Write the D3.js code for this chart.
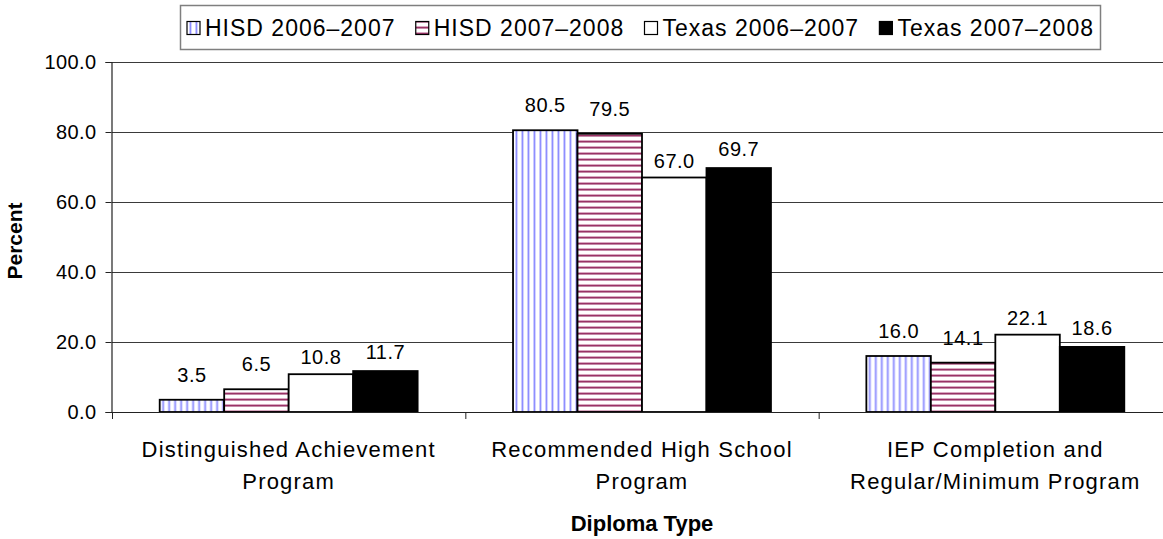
<!DOCTYPE html>
<html>
<head>
<meta charset="utf-8">
<script src="https://cdn.jsdelivr.net/npm/d3@7"></script>
<style>
  html, body { margin: 0; padding: 0; background: #fff; }
  svg { display: block; font-family: "Liberation Sans", Arial, sans-serif; }
</style>
</head>
<body>
<svg id="chart" width="1163" height="539"></svg>
<script>
// Diploma types (x categories), each label split into lines
const categories = [
  "Distinguished Achievement Program",
  "Recommended High School Program",
  "IEP Completion and Regular/Minimum Program"
];
const categoryLines = [
  ["Distinguished Achievement", "Program"],
  ["Recommended High School", "Program"],
  ["IEP Completion and", "Regular/Minimum Program"]
];

// Series names and percentages per diploma type
const seriesNames = ["HISD 2006\u20132007", "HISD 2007\u20132008", "Texas 2006\u20132007", "Texas 2007\u20132008"];
const hisd0607  = [3.5, 80.5, 16.0];
const hisd0708  = [6.5, 79.5, 14.1];
const texas0607 = [10.8, 67.0, 22.1];
const texas0708 = [11.7, 69.7, 18.6];
const seriesValues = [hisd0607, hisd0708, texas0607, texas0708];

// Y axis ticks
const yTicks = [0, 20, 40, 60, 80, 100];

const svg = d3.select("#chart");
const defs = svg.append("defs");

// Vertical blue stripes
const pv = defs.append("pattern").attr("id", "pat-vert")
  .attr("patternUnits", "userSpaceOnUse").attr("width", 6).attr("height", 6);
pv.append("rect").attr("width", 6).attr("height", 6).attr("fill", "#fff");
pv.append("rect").attr("x", 2).attr("width", 1).attr("height", 6).attr("fill", "#c8c8ff");
pv.append("rect").attr("x", 3).attr("width", 1).attr("height", 6).attr("fill", "#8c8cff");
pv.append("rect").attr("x", 4).attr("width", 1).attr("height", 6).attr("fill", "#d4d4ff");

// Horizontal maroon stripes
const ph = defs.append("pattern").attr("id", "pat-horiz")
  .attr("patternUnits", "userSpaceOnUse").attr("width", 6).attr("height", 6);
ph.append("rect").attr("width", 6).attr("height", 6).attr("fill", "#fff");
ph.append("rect").attr("y", 2).attr("width", 6).attr("height", 1).attr("fill", "#d9a9c1");
ph.append("rect").attr("y", 3).attr("width", 6).attr("height", 1).attr("fill", "#993366");
ph.append("rect").attr("y", 4).attr("width", 6).attr("height", 1).attr("fill", "#c48aa7");

const fills = ["url(#pat-vert)", "url(#pat-horiz)", "#ffffff", "#000000"];
// Extra gap between the bar top and its value label, per series
const labelGap = [18, 18, 10, 12];

const plot = { left: 112, top: 62, bottom: 412, right: 1172 };

const x0 = d3.scaleBand()
  .domain(categories)
  .range([plot.left, plot.right])
  .paddingInner(0.27)
  .paddingOuter(0.135);

const x1 = d3.scaleBand()
  .domain(d3.range(seriesNames.length))
  .range([0, x0.bandwidth()])
  .padding(0);

const y = d3.scaleLinear().domain([0, 100]).range([plot.bottom, plot.top]);

// Horizontal gridlines
svg.append("g")
  .selectAll("line")
  .data(yTicks.filter(d => d > 0))
  .join("line")
  .attr("x1", plot.left).attr("x2", 1163)
  .attr("y1", d => y(d) + 0.5).attr("y2", d => y(d) + 0.5)
  .attr("stroke", "#3a3a3a").attr("stroke-width", 1);

// Y axis
const yAxis = svg.append("g")
  .attr("transform", `translate(${plot.left - 0.5},0)`)
  .call(d3.axisLeft(y).tickValues(yTicks).tickSize(6).tickPadding(9).tickFormat(d3.format(".1f")));
yAxis.select(".domain").attr("stroke", "#222").attr("stroke-width", 1.2);
yAxis.selectAll(".tick line").attr("stroke", "#222");
yAxis.selectAll(".tick text")
  .attr("font-size", 20).attr("letter-spacing", 0.4).attr("fill", "#000")
  .attr("font-family", "Liberation Sans, Arial, sans-serif");

// Bars
const groups = svg.append("g")
  .selectAll("g")
  .data(categories)
  .join("g")
  .attr("transform", d => `translate(${x0(d)},0)`);

groups.selectAll("rect")
  .data((d, ci) => seriesValues.map((vals, si) => ({ si, v: vals[ci] })))
  .join("rect")
  .attr("x", d => x1(d.si))
  .attr("y", d => y(d.v))
  .attr("width", x1.bandwidth())
  .attr("height", d => y(0) - y(d.v))
  .attr("fill", d => fills[d.si])
  .attr("stroke", "#000")
  .attr("stroke-width", 1.8);

// Value labels
groups.selectAll("text")
  .data((d, ci) => seriesValues.map((vals, si) => ({ si, v: vals[ci] })))
  .join("text")
  .attr("x", d => x1(d.si) + x1.bandwidth() / 2)
  .attr("y", d => y(d.v) - labelGap[d.si])
  .attr("text-anchor", "middle")
  .attr("font-size", 20)
  .attr("letter-spacing", 0.5)
  .text(d => d3.format(".1f")(d.v));

// X axis baseline and category ticks
svg.append("line")
  .attr("x1", plot.left - 6).attr("x2", 1163)
  .attr("y1", plot.bottom + 0.5).attr("y2", plot.bottom + 0.5)
  .attr("stroke", "#222").attr("stroke-width", 1.2);

const step = x0.step();
svg.append("g")
  .selectAll("line")
  .data(categories)
  .join("line")
  .attr("x1", d => x0(d) - (step - x0.bandwidth()) / 2 + 0.5)
  .attr("x2", d => x0(d) - (step - x0.bandwidth()) / 2 + 0.5)
  .attr("y1", plot.bottom).attr("y2", plot.bottom + 7)
  .attr("stroke", "#222");

// Category labels
const catLabels = svg.append("g")
  .selectAll("text")
  .data(categories)
  .join("text")
  .attr("x", d => x0(d) + x0.bandwidth() / 2)
  .attr("y", 457)
  .attr("text-anchor", "middle")
  .attr("font-size", 22)
  .attr("letter-spacing", 1.2);
catLabels.each(function (d, i) {
  const t = d3.select(this);
  categoryLines[i].forEach((line, li) => {
    t.append("tspan")
      .attr("x", x0(d) + x0.bandwidth() / 2)
      .attr("dy", li === 0 ? 0 : 32)
      .text(line);
  });
});

// Axis titles
svg.append("text")
  .attr("x", 642).attr("y", 531)
  .attr("text-anchor", "middle")
  .attr("font-size", 22).attr("font-weight", "bold")
  .text("Diploma Type");

svg.append("text")
  .attr("transform", "translate(22,241) rotate(-90)")
  .attr("text-anchor", "middle")
  .attr("font-size", 21).attr("font-weight", "bold")
  .text("Percent");

// Legend: items spread evenly across the framed box
const legend = svg.append("g");
legend.append("rect")
  .attr("x", 180.5).attr("y", 5.5)
  .attr("width", 920).attr("height", 44)
  .attr("fill", "#fff").attr("stroke", "#7f7f7f").attr("stroke-width", 1.5);

const legendStart = 187, legendEnd = 1094, swatch = 13, swatchGap = 5;
const items = seriesNames.map((name, i) => {
  const g = legend.append("g");
  g.append("rect")
    .attr("x", 0).attr("y", 21.5)
    .attr("width", swatch).attr("height", swatch)
    .attr("fill", fills[i])
    .attr("stroke", "#000").attr("stroke-width", 1.2);
  const t = g.append("text")
    .attr("x", swatch + swatchGap).attr("y", 36)
    .attr("font-size", 23)
    .attr("letter-spacing", 1)
    .text(name);
  return { g, w: swatch + swatchGap + t.node().getComputedTextLength() };
});
const totalW = d3.sum(items, d => d.w);
const gap = (legendEnd - legendStart - totalW) / (items.length - 1);
let lx = legendStart;
items.forEach(it => {
  it.g.attr("transform", `translate(${lx},0)`);
  lx += it.w + gap;
});
</script>
</body>
</html>
